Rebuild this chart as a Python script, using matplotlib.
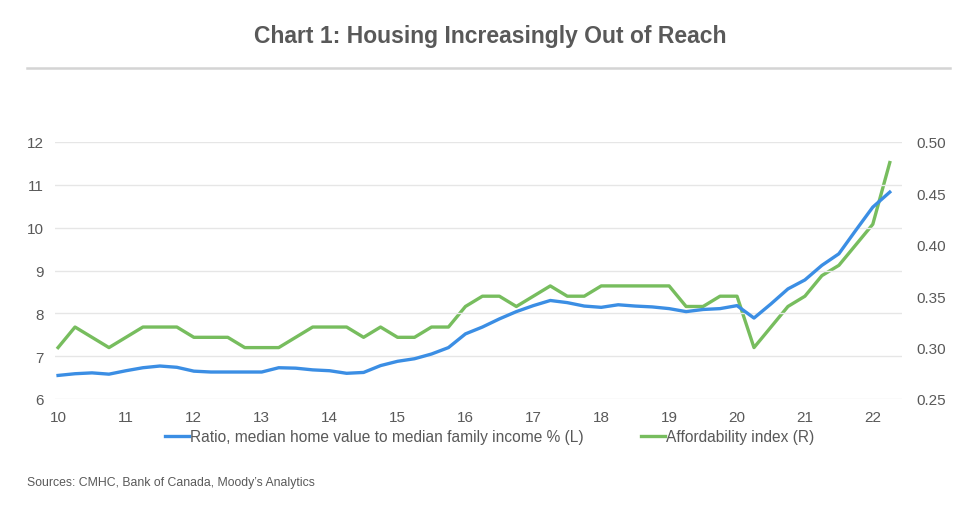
import matplotlib
matplotlib.use("Agg")
import matplotlib.pyplot as plt
import numpy as np

plt.rcParams['font.family'] = ['Liberation Sans', 'DejaVu Sans']

# Quarterly data, 2010Q1 .. 2022Q2 (x in years since 2000)
start_year = 10
n_quarters = 50
ratio = [6.55, 6.59, 6.61, 6.58, 6.66, 6.73, 6.77, 6.74, 6.65, 6.63,
         6.63, 6.63, 6.63, 6.73, 6.72, 6.68, 6.66, 6.60, 6.62, 6.78,
         6.88, 6.94, 7.05, 7.20, 7.52, 7.68, 7.87, 8.04, 8.18, 8.30,
         8.25, 8.17, 8.14, 8.20, 8.17, 8.15, 8.11, 8.04, 8.09, 8.11,
         8.18, 7.89, 8.22, 8.57, 8.78, 9.12, 9.39, 9.94, 10.48, 10.83]
afford = [0.30, 0.32, 0.31, 0.30, 0.31, 0.32, 0.32, 0.32, 0.31, 0.31,
          0.31, 0.30, 0.30, 0.30, 0.31, 0.32, 0.32, 0.32, 0.31, 0.32,
          0.31, 0.31, 0.32, 0.32, 0.34, 0.35, 0.35, 0.34, 0.35, 0.36,
          0.35, 0.35, 0.36, 0.36, 0.36, 0.36, 0.36, 0.34, 0.34, 0.35,
          0.35, 0.30, 0.32, 0.34, 0.35, 0.37, 0.38, 0.40, 0.42, 0.48]
x_ticks = [10, 11, 12, 13, 14, 15, 16, 17, 18, 19, 20, 21, 22]
left_ticks = [6, 7, 8, 9, 10, 11, 12]
right_ticks = [0.25, 0.30, 0.35, 0.40, 0.45, 0.50]

title = "Chart 1: Housing Increasingly Out of Reach"
label_ratio = "Ratio, median home value to median family income % (L)"
label_afford = "Affordability index (R)"
source = "Sources: CMHC, Bank of Canada, Moody\u2019s Analytics"

x = start_year + np.arange(n_quarters) * 0.25

blue = "#3b8ee4"
green = "#77bd5e"
gray = "#595959"

W, H = 980, 506
fig = plt.figure(figsize=(W / 100, H / 100), dpi=100)
ax = fig.add_axes([55 / W, 1 - 400 / H, (902 - 55) / W, (400 - 143) / H])
ax2 = ax.twinx()

l1, = ax.plot(x, ratio, color=blue, lw=2.4, solid_joinstyle='round', zorder=3)
l2, = ax2.plot(x, afford, color=green, lw=2.4, solid_joinstyle='round', zorder=3)

ax.set_xlim(9.955, 22.43)
ax.set_ylim(6, 12)
ax2.set_ylim(0.25, 0.50)
ax.set_yticks(left_ticks)
ax.set_yticklabels([str(t) for t in left_ticks])
ax2.set_yticks(right_ticks)
ax2.set_yticklabels([f"{t:.2f}" for t in right_ticks])
ax.set_xticks(x_ticks)
ax.set_xticklabels([str(t) for t in x_ticks])

ax.grid(axis='y', color='#e6e6e6', lw=1)
ax.set_axisbelow(True)
for a in (ax, ax2):
    for s in a.spines.values():
        s.set_visible(False)
    a.tick_params(length=0, labelsize=11, labelcolor=gray)
ax.tick_params(axis='y', pad=8)
ax2.tick_params(axis='y', pad=10)
ax.tick_params(axis='x', pad=8)
ax.set_zorder(ax2.get_zorder() + 1)
ax.patch.set_visible(False)

fig.text(0.5, 1 - 37 / H, title, ha='center', va='center', fontsize=16.5,
         fontweight='bold', color=gray)
fig.add_artist(plt.Line2D([27 / W, 950 / W], [1 - 69 / H, 1 - 69 / H],
                          color='#d4d4d4', lw=1.8))

fig.legend([l1, l2], [label_ratio, label_afford], loc='center',
           bbox_to_anchor=(490 / W, 1 - 438 / H), ncol=2, frameon=False,
           fontsize=11.2, handlelength=1.5, handletextpad=0.1,
           columnspacing=3.7, labelcolor=gray)

fig.text(27 / W, 1 - 483 / H, source, ha='left', va='center', fontsize=8.8,
         color=gray)

fig.savefig("out.png", dpi=100)
